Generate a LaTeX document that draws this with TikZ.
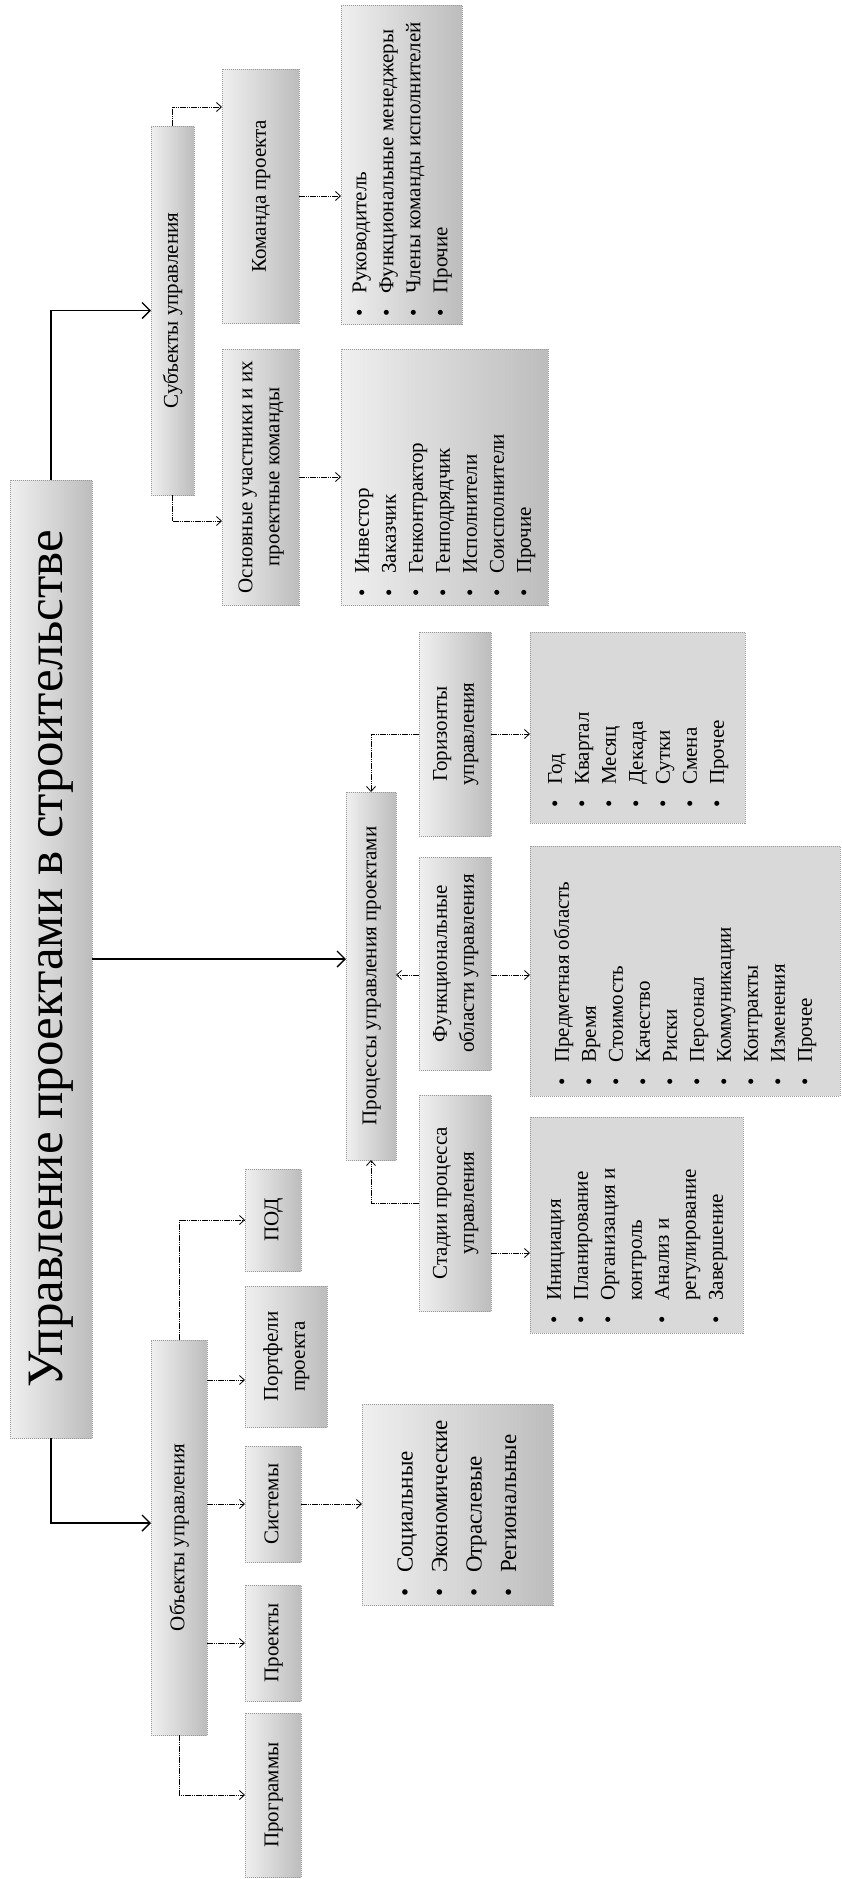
\documentclass[tikz,border=0pt]{standalone}
\usepackage{fontspec}
\setmainfont{Liberation Serif}
\usetikzlibrary{arrows.meta,calc}
\newcommand{\vt}[1]{\rotatebox{90}{\begin{tabular}{@{}c@{}}#1\end{tabular}}}
\newcommand{\vlist}[3]{\rotatebox{90}{\makebox[#1][l]{\hspace{#2}\begin{tabular}{@{}l@{\hspace{15pt}}l@{}}#3\end{tabular}}}}
\newcommand{\bu}{\textbullet}
\begin{document}
\begin{tikzpicture}[x=1pt,y=-1pt,
  base/.style={draw=black!40, dash pattern=on 1pt off 1pt, line width=0.5pt,
    inner sep=0pt, outer sep=0pt, anchor=center, font=\fontsize{21}{27}\selectfont},
  shaded/.style={base, left color=black!6, right color=black!26},
  flat/.style={base, fill=black!15},
  thickarr/.style={line width=1.8pt, -{Straight Barb[length=8pt,width=16pt,line width=1.4pt]}},
  thinarr/.style={line width=0.9pt, dash pattern=on 1.6pt off 0.6pt,
    -{Straight Barb[length=5pt,width=9pt,line width=0.8pt]}}]
\useasboundingbox (0,0) rectangle (841,1879);
% title
\node[shaded, minimum width=82pt, minimum height=958pt] (T) at (51,959)
  {\rotatebox{90}{\fontsize{51}{60}\selectfont Управление проектами в строительстве}};
% subjects branch
\node[shaded, minimum width=43pt, minimum height=369pt] (S) at (172.5,310.5) {\vt{Субъекты управления}};
\node[shaded, minimum width=77pt, minimum height=254pt] (K) at (260.5,196) {\vt{Команда проекта}};
\node[shaded, minimum width=77pt, minimum height=256pt] (O) at (260.5,477) {\vt{Основные участники и их\\проектные команды}};
\node[shaded, minimum width=121pt, minimum height=319pt] (KL) at (401.5,164.5)
  {\vlist{319pt}{8pt}{\bu & Руководитель\\ \bu & Функциональные менеджеры\\ \bu & Члены команды исполнителей\\ \bu & Прочие}};
\node[shaded, minimum width=207pt, minimum height=256pt] (OL) at (444.5,477)
  {\vlist{256pt}{9pt}{\bu & Инвестор\\ \bu & Заказчик\\ \bu & Генконтрактор\\ \bu & Генподрядчик\\ \bu & Исполнители\\ \bu & Соисполнители\\ \bu & Прочие}};
% processes branch
\node[shaded, minimum width=50pt, minimum height=368pt] (P) at (371,976) {\vt{Процессы управления проектами}};
\node[shaded, minimum width=72pt, minimum height=204pt] (G) at (455,734) {\vt{Горизонты\\управления}};
\node[shaded, minimum width=72pt, minimum height=213pt] (F) at (455,963.5) {\vt{Функциональные\\области управления}};
\node[shaded, minimum width=72pt, minimum height=216pt] (St) at (455,1203) {\vt{Стадии процесса\\управления}};
\node[flat, minimum width=215pt, minimum height=191pt] (GL) at (637.5,727.5)
  {\vlist{191pt}{16pt}{\bu & Год\\ \bu & Квартал\\ \bu & Месяц\\ \bu & Декада\\ \bu & Сутки\\ \bu & Смена\\ \bu & Прочее}};
\node[flat, minimum width=310pt, minimum height=250pt] (FL) at (685,971)
  {\vlist{250pt}{11pt}{\bu & Предметная область\\ \bu & Время\\ \bu & Стоимость\\ \bu & Качество\\ \bu & Риски\\ \bu & Персонал\\ \bu & Коммуникации\\ \bu & Контракты\\ \bu & Изменения\\ \bu & Прочее}};
\node[flat, minimum width=213pt, minimum height=216pt] (StL) at (636.5,1225)
  {\vlist{216pt}{10pt}{\bu & Инициация\\ \bu & Планирование\\ \bu & Организация и\\ & контроль\\ \bu & Анализ и\\ & регулирование\\ \bu & Завершение}};
% objects branch
\node[shaded, minimum width=56pt, minimum height=395pt] (Ob) at (179,1537.5) {\vt{Объекты управления}};
\node[shaded, minimum width=56pt, minimum height=102pt] (PD) at (273,1220) {\vt{ПОД}};
\node[shaded, minimum width=82pt, minimum height=141pt] (PF) at (286,1356.5) {\vt{Портфели\\проекта}};
\node[shaded, minimum width=56pt, minimum height=116pt] (Sys) at (273,1504) {\vt{Системы}};
\node[shaded, minimum width=56pt, minimum height=116pt] (Prj) at (273,1643) {\vt{Проекты}};
\node[shaded, minimum width=56pt, minimum height=164pt] (Prg) at (273,1795) {\vt{Программы}};
\node[shaded, minimum width=191pt, minimum height=201pt] (SysL) at (457.5,1504.5)
  {\fontsize{23}{34.5}\selectfont\vlist{201pt}{9pt}{\bu & Социальные\\ \bu & Экономические\\ \bu & Отраслевые\\ \bu & Региональные}};
% helper coordinates
\coordinate (tO) at ([yshift=14.5pt]Ob.west);
\coordinate (sK) at ([yshift=89pt]K.west);
\coordinate (sO) at ([yshift=-44pt]O.west);
\coordinate (fP) at ([yshift=-11.5pt]F.west);
\coordinate (stL) at ([yshift=-50pt]St.east);
\coordinate (oPF) at ([yshift=-23.5pt]PF.west);
% thick connectors from the title
\draw[thickarr] (T.north) |- (S.west);
\draw[thickarr] (T.east) -- (T.east -| P.west);
\draw[thickarr] (T.south) |- (tO);
% subjects
\draw[thinarr] (S.north) |- (sK);
\draw[thinarr] (S.south) |- (sO);
\draw[thinarr] (K.east) -- (K.east -| KL.west);
\draw[thinarr] (O.east) -- (OL.west);
% processes
\draw[thinarr] (G.west) -| (P.north);
\draw[thinarr] (fP) -- (fP -| P.east);
\draw[thinarr] (St.west) -| (P.south);
\draw[thinarr] (G.east) -- (G.east -| GL.west);
\draw[thinarr] (fP -| F.east) -- (fP -| FL.west);
\draw[thinarr] (stL) -- (stL -| StL.west);
% objects
\draw[thinarr] (Ob.north) |- (PD.west);
\draw[thinarr] (oPF -| Ob.east) -- (oPF);
\draw[thinarr] (Sys.west -| Ob.east) -- (Sys.west);
\draw[thinarr] (Prj.west -| Ob.east) -- (Prj.west);
\draw[thinarr] (Ob.south) |- (Prg.west);
\draw[thinarr] (Sys.east) -- (Sys.east -| SysL.west);
\end{tikzpicture}
\end{document}
